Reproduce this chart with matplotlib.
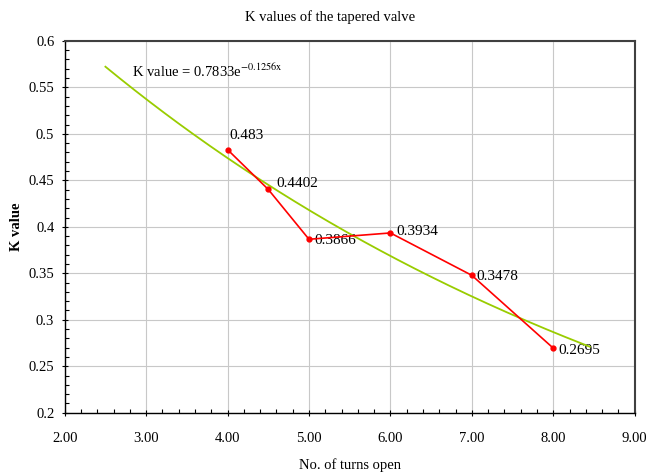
import numpy as np
import matplotlib
matplotlib.use("Agg")
import matplotlib.pyplot as plt
from matplotlib.ticker import MultipleLocator, FormatStrFormatter

# data
turns = [4.0, 4.5, 5.0, 6.0, 7.0, 8.0]
k_values = [0.483, 0.4402, 0.3866, 0.3934, 0.3478, 0.2695]
k_labels = ["0.483", "0.4402", "0.3866", "0.3934", "0.3478", "0.2695"]

trend_range = [2.5, 8.45]
trend_text = "K value = 0.7833e"
trend_exp = "-0.1256x"

plt.rcParams['font.family'] = ['Liberation Serif', 'DejaVu Serif']
plt.rcParams['mathtext.fontset'] = 'stix'

fig = plt.figure(figsize=(6.47, 4.75), dpi=100)
ax = fig.add_axes([0.100, 0.131, 0.881, 0.783])

# exponential trendline, fitted like excel does (linear fit on ln y)
b, ln_a = np.polyfit(turns, np.log(k_values), 1)
xt = np.linspace(trend_range[0], trend_range[1], 200)
ax.plot(xt, np.exp(ln_a) * np.exp(b * xt), color='#99cc00', lw=1.3, zorder=2)

# measured values
ax.plot(turns, k_values, color='#ff0000', lw=1.2, marker='o', ms=3.5, zorder=3)

offsets = [(1, 10), (6, 4), (4, -1), (4, 1), (3, -1), (4, -2)]
for x, y, lab, off in zip(turns, k_values, k_labels, offsets):
    ax.annotate(lab, (x, y), xytext=off, textcoords='offset points',
                fontsize=11, ha='left', va='center', zorder=1)

ax.text(2.83, 0.567, trend_text + r"$^{\mathrm{" + trend_exp + "}}$", fontsize=10.5, va='center')

ax.set_xlim(2, 9)
ax.set_ylim(0.2, 0.6)
ax.xaxis.set_major_locator(MultipleLocator(1))
ax.xaxis.set_minor_locator(MultipleLocator(0.2))
ax.yaxis.set_major_locator(MultipleLocator(0.05))
ax.yaxis.set_minor_locator(MultipleLocator(0.01))
ax.xaxis.set_major_formatter(FormatStrFormatter('%.2f'))
ax.yaxis.set_major_formatter(lambda v, p: ('%.2f' % v).rstrip('0').rstrip('.'))

ax.grid(True, which='major', color='#c8c8c8', lw=0.8)
ax.set_axisbelow(True)
ax.tick_params(which='minor', direction='in', length=3, width=0.8)
ax.tick_params(which='major', direction='inout', length=5, width=0.8, labelsize=10.5)
ax.tick_params(axis='x', pad=11)
ax.tick_params(axis='y', pad=5)

for s in ['left', 'bottom']:
    ax.spines[s].set_color('black')
    ax.spines[s].set_linewidth(1.0)
for s in ['top', 'right']:
    ax.spines[s].set_color('#404040')
    ax.spines[s].set_linewidth(1.5)

fig.text(0.51, 0.963, "K values of the tapered valve", fontsize=10.5, ha='center', va='center')
ax.set_xlabel("No. of turns open", fontsize=10.5, labelpad=10)
ax.set_ylabel("K value", fontsize=10.5, fontweight='bold', labelpad=4)

fig.savefig("out.png", dpi=100)
